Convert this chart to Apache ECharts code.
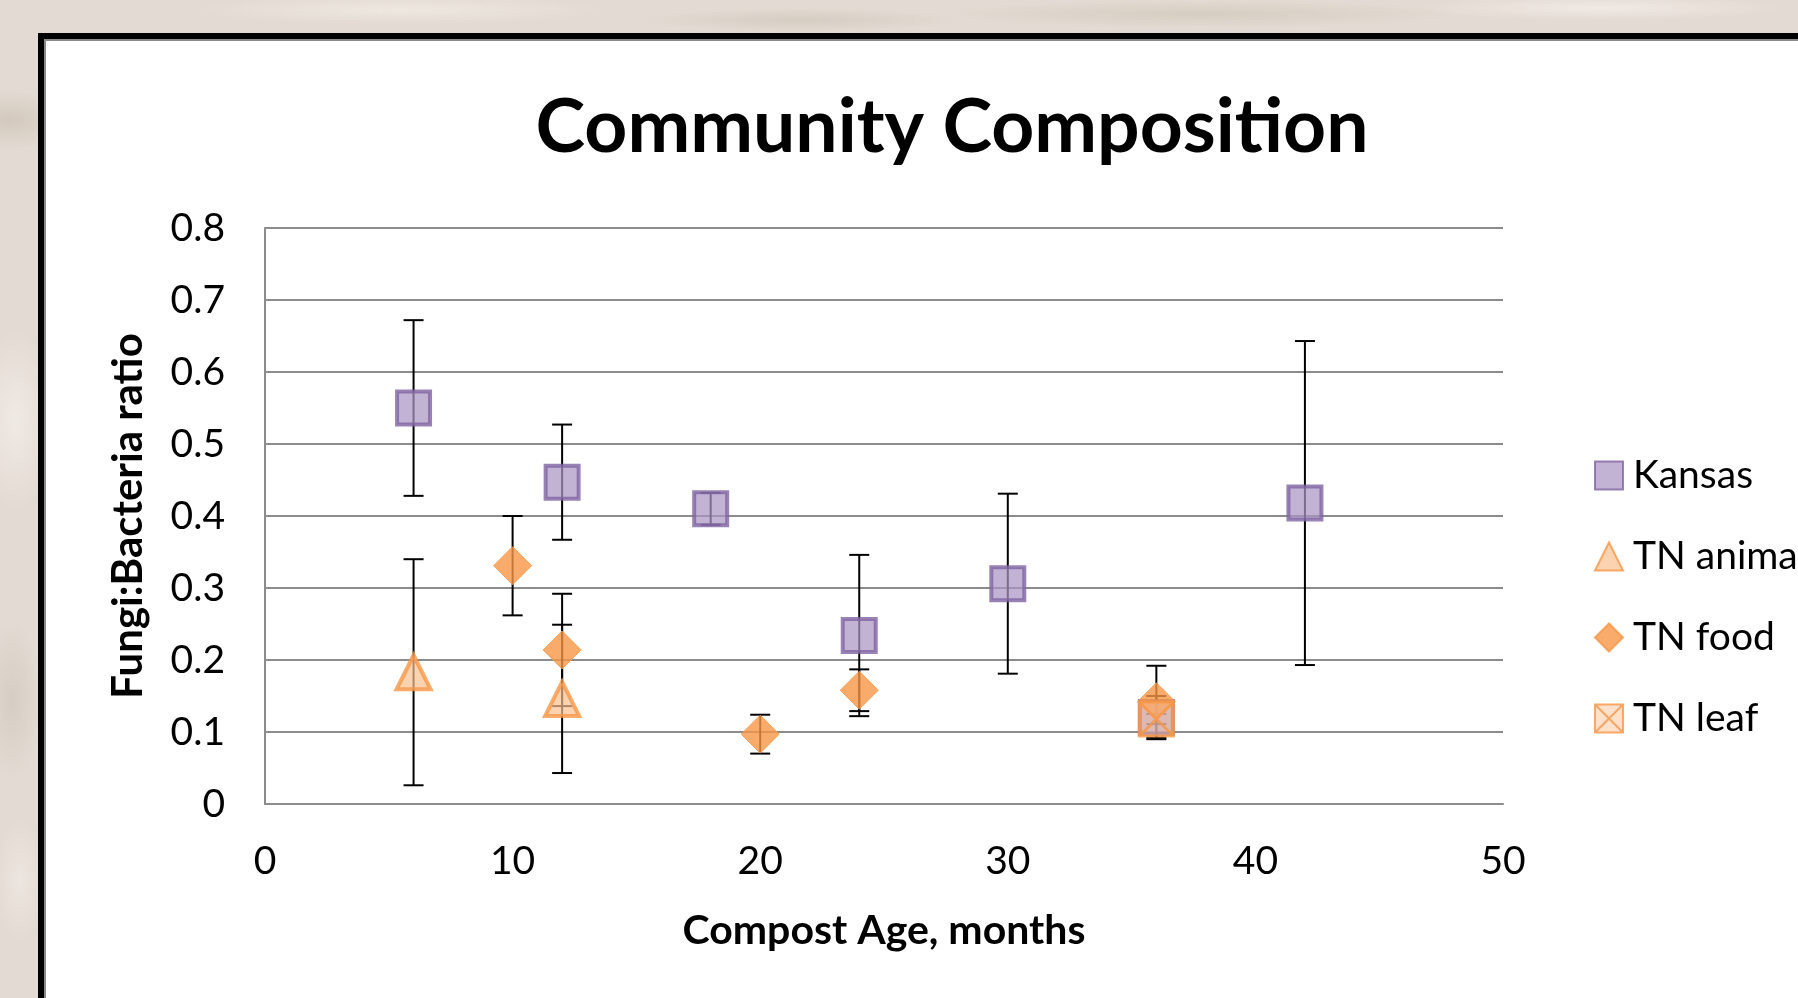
<!DOCTYPE html>
<html>
<head>
<meta charset="utf-8">
<script src="https://cdn.jsdelivr.net/npm/echarts@6/dist/echarts.min.js"></script>
<style>
  html, body { margin: 0; padding: 0; width: 1798px; height: 998px; overflow: hidden; }
  body {
    background-color: #e3dbd3;
    background-image:
      radial-gradient(ellipse 60px 30px at 10px 120px, rgba(200,188,175,0.6), transparent),
      radial-gradient(ellipse 40px 90px at 15px 420px, rgba(245,240,235,0.7), transparent),
      radial-gradient(ellipse 30px 80px at 12px 700px, rgba(205,195,185,0.6), transparent),
      radial-gradient(ellipse 25px 60px at 20px 880px, rgba(240,234,228,0.7), transparent),
      radial-gradient(ellipse 200px 14px at 400px 10px, rgba(240,235,228,0.8), transparent),
      radial-gradient(ellipse 160px 12px at 800px 20px, rgba(200,190,178,0.5), transparent),
      radial-gradient(ellipse 260px 14px at 1200px 14px, rgba(205,195,182,0.6), transparent),
      radial-gradient(ellipse 180px 12px at 1600px 8px, rgba(245,240,235,0.7), transparent);
  }
  #frame {
    position: absolute; left: 38px; top: 33px; width: 2000px; height: 2000px;
    background: #ffffff; border: 6px solid #000000;
    box-shadow: inset 2px 2px 0 #8a8a8a;
  }
  #chart { position: absolute; left: 0; top: 0; width: 1798px; height: 998px; }
</style>
</head>
<body>
<div id="frame"></div>
<div id="chart"></div>
<script>
// ---- data ----
const titleText = 'Community Composition';
const xAxisTitle = 'Compost Age, months';
const yAxisTitle = 'Fungi:Bacteria ratio';
const seriesNames = ['Kansas', 'TN animal', 'TN food', 'TN leaf'];

const kansasX   = [6, 12, 18, 24, 30, 36, 42];
const kansasY   = [0.55, 0.447, 0.41, 0.234, 0.306, 0.12, 0.418];
const kansasErr = [0.122, 0.08, 0.022, 0.112, 0.125, 0.03, 0.225];

const animalX   = [6, 12];
const animalY   = [0.183, 0.146];
const animalErr = [0.157, 0.103];

const foodX   = [10, 12, 20, 24, 36];
const foodY   = [0.331, 0.214, 0.097, 0.158, 0.142];
const foodErr = [0.069, 0.078, 0.027, 0.029, 0.05];

const leafX   = [36];
const leafY   = [0.118];
const leafErr = [0.007];

const xTicks = [0, 10, 20, 30, 40, 50];

// ---- helpers ----
function pts(xs, ys) { return xs.map((x, i) => [x, ys[i]]); }
function errPts(xs, ys, es) { return xs.map((x, i) => [x, ys[i] - es[i], ys[i] + es[i]]); }

function errRender(params, api) {
  const x = api.value(0), lo = api.value(1), hi = api.value(2);
  const pHi = api.coord([x, hi]);
  const pLo = api.coord([x, lo]);
  const hw = 10;
  const st = { stroke: '#000000', lineWidth: 2 };
  return {
    type: 'group',
    children: [
      { type: 'line', shape: { x1: pHi[0], y1: pHi[1], x2: pLo[0], y2: pLo[1] }, style: st },
      { type: 'line', shape: { x1: pHi[0] - hw, y1: pHi[1], x2: pHi[0] + hw, y2: pHi[1] }, style: st },
      { type: 'line', shape: { x1: pLo[0] - hw, y1: pLo[1], x2: pLo[0] + hw, y2: pLo[1] }, style: st }
    ]
  };
}

const FONT = 'Lato, "Open Sans", sans-serif';
const purpleEdge = '#8064a2';
const purpleFill = 'rgba(170,150,196,0.9)';
const orangeEdge = '#f79646';
const orangeFill = 'rgba(250,192,144,0.88)';

function errSeries(name, xs, ys, es) {
  return {
    name: 'err-' + name, type: 'custom', renderItem: errRender,
    data: errPts(xs, ys, es), z: 1, silent: true,
    encode: { x: 0, y: [1, 2] }
  };
}

const chart = echarts.init(document.getElementById('chart'), null, { renderer: 'canvas' });
chart.setOption({
  backgroundColor: 'transparent',
  animation: false,
  title: {
    text: titleText,
    left: 952, top: 90, textAlign: 'center', padding: 0,
    textStyle: { fontFamily: FONT, fontWeight: 'bold', fontSize: 75, color: '#000000' }
  },
  grid: { left: 265, right: 295, top: 228, bottom: 194, containLabel: false },
  legend: {
    orient: 'vertical', left: 1589, top: 451,
    itemWidth: 28, itemHeight: 28, itemGap: 42,
    data: seriesNames,
    textStyle: { fontFamily: FONT, fontSize: 39, color: '#000000', padding: [0, 0, 0, 5] }
  },
  xAxis: {
    type: 'value', min: 0, max: 50, interval: 10,
    name: xAxisTitle, nameLocation: 'middle', nameGap: 106,
    nameTextStyle: { fontFamily: FONT, fontWeight: 'bold', fontSize: 41, color: '#000000' },
    axisLine: { show: true, lineStyle: { color: '#8c8c8c', width: 2 } },
    axisTick: { show: false },
    splitLine: { show: false },
    axisLabel: { margin: 38, fontFamily: FONT, fontSize: 39, color: '#000000',
      customValues: xTicks }
  },
  yAxis: {
    type: 'value', min: 0, max: 0.8, interval: 0.1,
    name: yAxisTitle, nameLocation: 'middle', nameGap: 116, nameRotate: 90,
    nameTextStyle: { fontFamily: FONT, fontWeight: 'bold', fontSize: 42, color: '#000000' },
    axisLine: { show: true, lineStyle: { color: '#8c8c8c', width: 2 } },
    axisTick: { show: false },
    splitLine: { show: true, lineStyle: { color: '#8c8c8c', width: 2 } },
    axisLabel: { margin: 40, fontFamily: FONT, fontSize: 39, color: '#000000',
      formatter: v => String(+v.toFixed(1)) }
  },
  series: [
    errSeries('Kansas', kansasX, kansasY, kansasErr),
    errSeries('TN animal', animalX, animalY, animalErr),
    errSeries('TN food', foodX, foodY, foodErr),
    errSeries('TN leaf', leafX, leafY, leafErr),
    {
      name: 'Kansas', type: 'scatter', z: 2, data: pts(kansasX, kansasY),
      symbol: 'rect', symbolSize: 33,
      itemStyle: { color: purpleFill, borderColor: purpleEdge, borderWidth: 4 }
    },
    {
      name: 'TN animal', type: 'scatter', z: 2, data: pts(animalX, animalY),
      symbol: 'triangle', symbolSize: 34,
      itemStyle: { color: orangeFill, borderColor: orangeEdge, borderWidth: 4 }
    },
    {
      name: 'TN food', type: 'scatter', z: 2, data: pts(foodX, foodY),
      symbol: 'diamond', symbolSize: 38,
      itemStyle: { color: '#f79646', borderColor: orangeEdge, borderWidth: 1 }
    },
    {
      name: 'TN leaf', type: 'scatter', z: 2, data: pts(leafX, leafY),
      symbol: 'path://M0,0L10,0L10,10L0,10Z M0,0L10,10 M10,0L0,10', symbolSize: 34,
      itemStyle: { color: 'rgba(250,192,144,0.6)', borderColor: orangeEdge, borderWidth: 3 }
    }
  ]
});
</script>
</body>
</html>
